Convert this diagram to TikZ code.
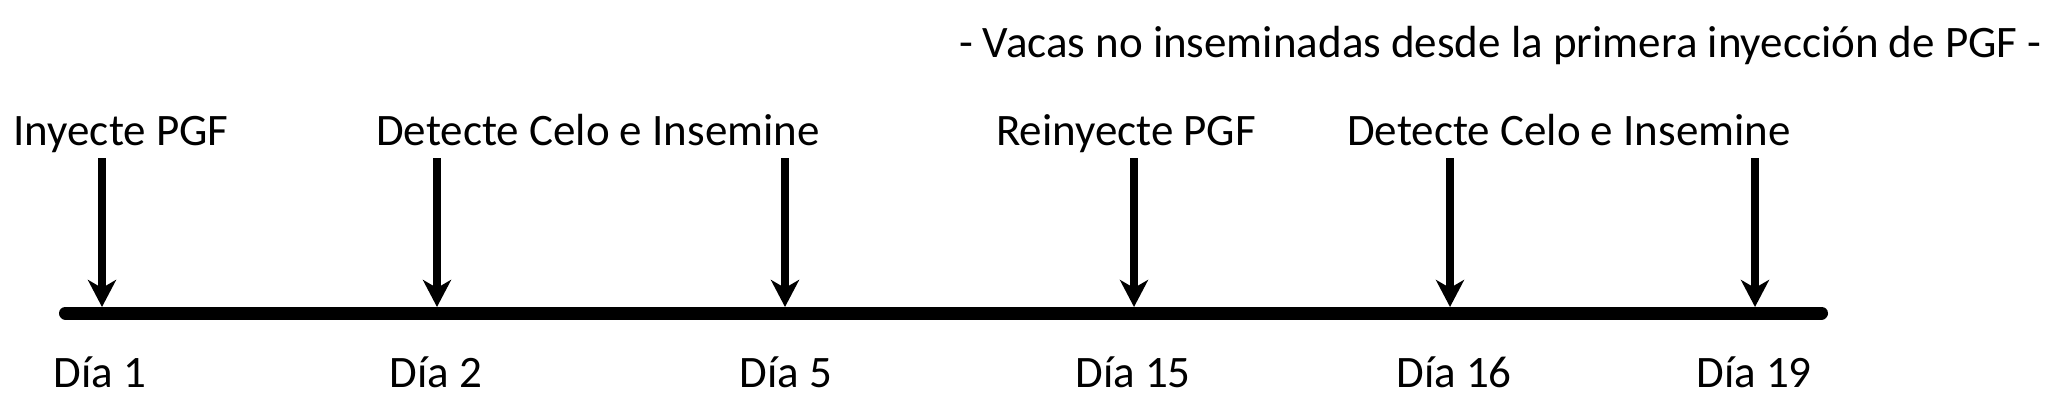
\documentclass[tikz,border=0pt]{standalone}
\usepackage{fontspec}
\setmainfont{Carlito}
\usetikzlibrary{arrows.meta}
\begin{document}
\begin{tikzpicture}[x=0.5pt,y=-0.5pt,
  lbl/.style={font=\fontsize{22.5pt}{27pt}\selectfont, inner sep=0pt, anchor=base},
  axis/.style={line width=6.5pt, line cap=round},
  arr/.style={line width=4pt, -{Stealth[length=13.5pt,width=14pt,inset=4pt]}}]
\useasboundingbox (0,0) rectangle (2060,407);
% timeline
\coordinate (L0) at (65.5,313);
\coordinate (L1) at (1821.5,313);
\draw[axis] (L0) -- (L1);
% arrows
\foreach \n/\x in {1/102,2/437,3/785,4/1134,5/1450,6/1755}{
  \coordinate (t\n) at (\x,158);
  \coordinate (h\n) at (\x,307);
  \draw[arr] (t\n) -- (h\n);
}
% top labels
\node[lbl] (a1) at (121,145) {Inyecte PGF};
\node[lbl] (a2) at (598,145) {Detecte Celo e Insemine};
\node[lbl] (a3) at (1126,145) {Reinyecte PGF};
\node[lbl] (a4) at (1569,145) {Detecte Celo e Insemine};
\node[lbl, anchor=base east] (title) at (2042,57) {- Vacas no inseminadas desde la primera inyección de PGF -};
% day labels
\node[lbl] (d1) at (100,387) {Día 1};
\node[lbl] (d2) at (436,387) {Día 2};
\node[lbl] (d3) at (786,387) {Día 5};
\node[lbl] (d4) at (1133,387) {Día 15};
\node[lbl] (d5) at (1454,387) {Día 16};
\node[lbl] (d6) at (1754,387) {Día 19};
\end{tikzpicture}
\end{document}
